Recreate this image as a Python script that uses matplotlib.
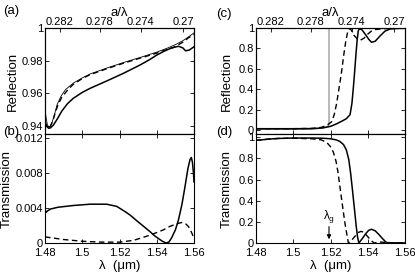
import numpy as np
import matplotlib
matplotlib.use("Agg")
import matplotlib.pyplot as plt

plt.rcParams['font.family'] = ['Liberation Sans', 'DejaVu Sans']
plt.rcParams['axes.linewidth'] = 0.8

A_LATT = 0.4196  # lattice constant (um) for the a/lambda axis

# ---- (a) reflection, low-contrast case
a_thin_x = [1.4800, 1.4806, 1.4813, 1.4822, 1.4835, 1.4850, 1.4865, 1.4885, 1.4910, 1.4952, 1.5000,
            1.5042, 1.5131, 1.5221, 1.5310, 1.5400, 1.5460, 1.5500, 1.5540, 1.5570, 1.5600]
a_thin_y = [0.9500, 0.9450, 0.9405, 0.9390, 0.9410, 0.9465, 0.9530, 0.9580, 0.9622, 0.9662, 0.9694,
            0.9718, 0.9754, 0.9788, 0.9819, 0.9852, 0.9878, 0.9898, 0.9922, 0.9945, 0.9970]
a_dash_x = [1.4800, 1.4808, 1.4816, 1.4826, 1.4840, 1.4855, 1.4870, 1.4890, 1.4920, 1.4952, 1.5000,
            1.5042, 1.5131, 1.5221, 1.5310, 1.5400, 1.5450, 1.5489, 1.5520, 1.5543, 1.5570, 1.5600]
a_dash_y = [0.9430, 0.9400, 0.9390, 0.9393, 0.9425, 0.9480, 0.9530, 0.9575, 0.9618, 0.9655, 0.9690,
            0.9714, 0.9750, 0.9784, 0.9815, 0.9846, 0.9866, 0.9880, 0.9900, 0.9915, 0.9940, 0.9960]
a_thick_x = [1.4800, 1.4810, 1.4820, 1.4830, 1.4845, 1.4865, 1.4890, 1.4920, 1.4952, 1.5000, 1.5042,
             1.5131, 1.5221, 1.5310, 1.5360, 1.5400, 1.5440, 1.5480, 1.5517, 1.5540, 1.5555, 1.5575, 1.5600]
a_thick_y = [0.9420, 0.9395, 0.9385, 0.9388, 0.9405, 0.9440, 0.9490, 0.9535, 0.9569, 0.9605, 0.9630,
             0.9675, 0.9722, 0.9773, 0.9805, 0.9834, 0.9858, 0.9878, 0.9888, 0.9878, 0.9860, 0.9865, 0.9885]

# ---- (b) transmission, low-contrast case
b_thick_x = [1.4800, 1.4805, 1.4815, 1.4830, 1.4870, 1.4952, 1.5042, 1.5131, 1.5185, 1.5230, 1.5257,
             1.5290, 1.5330, 1.5364, 1.5390, 1.5410, 1.5430, 1.5450, 1.5465, 1.5480, 1.5500, 1.5516,
             1.5535, 1.5552, 1.5567, 1.5579, 1.5586, 1.5592, 1.5597, 1.5600]
b_thick_y = [0.0039, 0.0035, 0.0037, 0.0039, 0.0041, 0.0043, 0.00445, 0.00445, 0.0042, 0.0036, 0.0032,
             0.0026, 0.0019, 0.0013, 0.0008, 0.0005, 0.0002, 0.0000, 0.0001, 0.0006, 0.0015, 0.0026,
             0.0044, 0.0065, 0.0085, 0.0096, 0.0098, 0.0092, 0.0080, 0.0070]
b_dash_x = [1.4800, 1.4900, 1.5000, 1.5100, 1.5200, 1.5275, 1.5320, 1.5364, 1.5400, 1.5435, 1.5470,
            1.5507, 1.5534, 1.5555, 1.5570, 1.5585, 1.5595, 1.5600]
b_dash_y = [0.0007, 0.0004, 0.0002, 0.0001, 0.0001, 0.0003, 0.0006, 0.0009, 0.0012, 0.0015, 0.0019,
            0.0022, 0.00235, 0.0022, 0.0019, 0.0013, 0.0008, 0.0005]

# ---- (c) reflection, high-contrast case
c_thin_x = [1.4800, 1.5000, 1.5100, 1.5150, 1.5180, 1.5192, 1.5192, 1.5600]
c_thin_y = [0.005, 0.005, 0.008, 0.015, 0.030, 0.050, 1.000, 1.000]
c_dash_x = [1.4800, 1.5000, 1.5100, 1.5150, 1.5180, 1.5206, 1.5220, 1.5233, 1.5245, 1.5258, 1.5270,
            1.5282, 1.5292, 1.5300, 1.5310, 1.5325, 1.5345, 1.5360, 1.5380, 1.5400, 1.5420, 1.5440,
            1.5470, 1.5500, 1.5600]
c_dash_y = [0.012, 0.012, 0.015, 0.025, 0.045, 0.080, 0.150, 0.260, 0.400, 0.550, 0.720,
            0.870, 0.960, 0.995, 0.985, 0.930, 0.890, 0.880, 0.900, 0.940, 0.970, 0.985,
            0.990, 0.995, 0.997]
c_thick_x = [1.4800, 1.5000, 1.5100, 1.5160, 1.5200, 1.5233, 1.5260, 1.5285, 1.5305, 1.5315, 1.5323,
             1.5330, 1.5337, 1.5343, 1.5349, 1.5355, 1.5370, 1.5390, 1.5405, 1.5420, 1.5440, 1.5465,
             1.5493, 1.5520, 1.5550, 1.5600]
c_thick_y = [0.012, 0.012, 0.013, 0.020, 0.035, 0.060, 0.085, 0.110, 0.150, 0.260, 0.420,
             0.580, 0.750, 0.880, 0.970, 0.995, 0.980, 0.930, 0.890, 0.860, 0.870, 0.920,
             0.970, 0.990, 0.995, 0.997]

# ---- (d) transmission, high-contrast case
d_dash_x = [1.4800, 1.4830, 1.4870, 1.4920, 1.5000, 1.5100, 1.5150, 1.5180, 1.5200, 1.5215, 1.5230,
            1.5240, 1.5250, 1.5260, 1.5270, 1.5280, 1.5290, 1.5296, 1.5310, 1.5330, 1.5350, 1.5365,
            1.5380, 1.5400, 1.5420, 1.5435, 1.5460, 1.5500, 1.5550, 1.5600]
d_dash_y = [0.970, 0.975, 0.982, 0.988, 0.990, 0.985, 0.975, 0.950, 0.910, 0.860, 0.770,
            0.670, 0.540, 0.410, 0.280, 0.160, 0.060, 0.000, 0.020, 0.060, 0.100, 0.110,
            0.100, 0.060, 0.020, 0.000, 0.010, 0.005, 0.000, 0.000]
d_thick_x = [1.4800, 1.4830, 1.4870, 1.4920, 1.5000, 1.5100, 1.5160, 1.5200, 1.5230, 1.5250, 1.5270,
             1.5285, 1.5298, 1.5308, 1.5318, 1.5328, 1.5338, 1.5345, 1.5352, 1.5370, 1.5390, 1.5405,
             1.5420, 1.5440, 1.5460, 1.5480, 1.5500, 1.5530, 1.5560, 1.5600]
d_thick_y = [0.970, 0.975, 0.982, 0.988, 0.992, 0.992, 0.990, 0.985, 0.975, 0.960, 0.930,
             0.880, 0.790, 0.660, 0.500, 0.330, 0.160, 0.060, 0.000, 0.040, 0.090, 0.120,
             0.130, 0.115, 0.080, 0.040, 0.005, 0.000, 0.002, 0.000]

lam_ticks = [1.48, 1.5, 1.52, 1.54, 1.56]
lam_labels = ["1.48", "1.5", "1.52", "1.54", "1.56"]
alam_ticks = [0.282, 0.278, 0.274, 0.27]
alam_labels = ["0.282", "0.278", "0.274", "0.27"]
LAMBDA_G = 1.5192

TICK_FS = 8
LABEL_FS = 9.5
DASH = (4, 2.5)

fig = plt.figure(figsize=(4.15, 2.72), dpi=100)

W, H = 415.0, 272.0
def add_ax(x0, x1, y0, y1):
    return fig.add_axes([x0 / W, 1 - y1 / H, (x1 - x0) / W, (y1 - y0) / H])

ax_a = add_ax(45, 194, 28, 134)
ax_b = add_ax(45, 194, 134, 243)
ax_c = add_ax(256, 405, 28, 134)
ax_d = add_ax(256, 405, 134, 243)

def style(ax, top_panel):
    ax.set_xlim(1.48, 1.56)
    ax.set_xticks(lam_ticks)
    ax.tick_params(direction='in', length=3, width=0.6, labelsize=TICK_FS,
                   right=True, top=not top_panel, pad=1.5)
    ax.tick_params(axis='x', pad=3.5)
    if top_panel:
        ax.set_xticklabels([])
        tw = ax.twiny()
        tw.set_xlim(ax.get_xlim())
        tw.set_xticks([A_LATT / v for v in alam_ticks])
        tw.set_xticklabels(alam_labels)
        tw.tick_params(direction='in', length=3, width=0.6, labelsize=TICK_FS, pad=0.5)
        tw.set_xlabel('a/λ', fontsize=LABEL_FS, labelpad=1)
    else:
        ax.set_xticklabels(lam_labels)
        ax.set_xlabel('λ  (μm)', fontsize=LABEL_FS, labelpad=1.5)

# (a)
ax_a.plot(a_thin_x, a_thin_y, color='k', lw=0.6)
ax_a.plot(a_dash_x, a_dash_y, color='k', lw=1.0, dashes=DASH)
ax_a.plot(a_thick_x, a_thick_y, color='k', lw=1.1)
ax_a.set_ylim(0.935, 1.0)
ax_a.set_yticks([0.94, 0.96, 0.98, 1.0])
ax_a.set_yticklabels(["0.94", "0.96", "0.98", "1"])
ax_a.set_ylabel('Reflection', fontsize=LABEL_FS, labelpad=2)
style(ax_a, True)

# (b)
ax_b.plot(b_dash_x, b_dash_y, color='k', lw=1.0, dashes=DASH)
ax_b.plot(b_thick_x, b_thick_y, color='k', lw=1.1)
ax_b.set_ylim(0, 0.0125)
ax_b.set_yticks([0, 0.004, 0.008, 0.012])
ax_b.set_yticklabels(["0", "0.004", "0.008", "0.012"])
ax_b.set_ylabel('Transmission', fontsize=LABEL_FS, labelpad=2)
style(ax_b, False)

# (c)
ax_c.plot(c_thin_x, c_thin_y, color='0.45', lw=0.7)
ax_c.plot(c_dash_x, c_dash_y, color='k', lw=1.0, dashes=DASH)
ax_c.plot(c_thick_x, c_thick_y, color='k', lw=1.1)
ax_c.set_ylim(-0.04, 1.0)
ax_c.set_yticks([0, 0.2, 0.4, 0.6, 0.8, 1.0])
ax_c.set_yticklabels(["0", "0.2", "0.4", "0.6", "0.8", "1"])
ax_c.set_ylabel('Reflection', fontsize=LABEL_FS, labelpad=4)
style(ax_c, True)

# (d)
ax_d.plot(d_dash_x, d_dash_y, color='k', lw=1.0, dashes=DASH)
ax_d.plot(d_thick_x, d_thick_y, color='k', lw=1.1)
ax_d.set_ylim(0, 1.03)
ax_d.set_yticks([0, 0.2, 0.4, 0.6, 0.8, 1.0])
ax_d.set_yticklabels(["0", "0.2", "0.4", "0.6", "0.8", "1"])
ax_d.set_ylabel('Transmission', fontsize=LABEL_FS, labelpad=4)
style(ax_d, False)

ax_d.annotate('', xy=(LAMBDA_G, 0.035), xytext=(LAMBDA_G, 0.155),
              arrowprops=dict(arrowstyle='-|>', lw=0.8, color='k', mutation_scale=6,
                              shrinkA=0, shrinkB=0))
ax_d.text(LAMBDA_G, 0.17, r'$\mathregular{\lambda_g}$', fontsize=8.5, ha='center', va='bottom')

# panel letters
fig.text(3 / W, 1 - 11 / H, '(a)', fontsize=LABEL_FS, va='center')
fig.text(3 / W, 1 - 132 / H, '(b)', fontsize=LABEL_FS, va='center')
fig.text(216 / W, 1 - 14 / H, '(c)', fontsize=LABEL_FS, va='center')
fig.text(216 / W, 1 - 132 / H, '(d)', fontsize=LABEL_FS, va='center')

fig.savefig('out.png', dpi=100)
